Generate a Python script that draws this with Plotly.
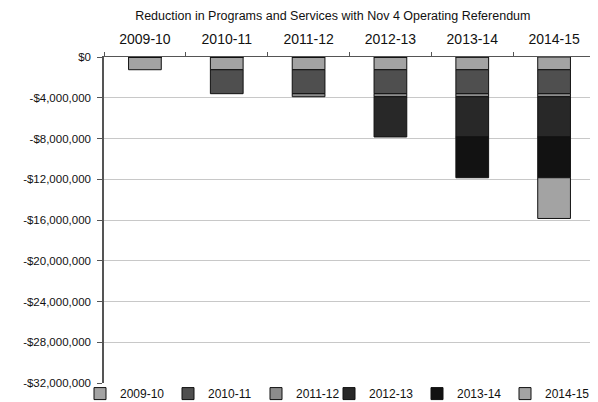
import plotly.graph_objects as go

categories = ["2009-10", "2010-11", "2011-12", "2012-13", "2013-14", "2014-15"]
series_names = ["2009-10", "2010-11", "2011-12", "2012-13", "2013-14", "2014-15"]
# reduction per year-tranche (negative dollars), stacked per fiscal year
s_2009 = [-1250000, -1250000, -1250000, -1250000, -1250000, -1250000]
s_2010 = [0, -2350000, -2350000, -2350000, -2350000, -2350000]
s_2011 = [0, 0, -300000, -300000, -300000, -300000]
s_2012 = [0, 0, 0, -3950000, -3950000, -3950000]
s_2013 = [0, 0, 0, 0, -4000000, -4000000]
s_2014 = [0, 0, 0, 0, 0, -4000000]
series_values = [s_2009, s_2010, s_2011, s_2012, s_2013, s_2014]
colors = ["#a3a3a3", "#4f4f4f", "#8c8c8c", "#282828", "#121212", "#a3a3a3"]

tick_vals = [0, -4000000, -8000000, -12000000, -16000000, -20000000, -24000000, -28000000, -32000000]
tick_text = ["$0", "-$4,000,000", "-$8,000,000", "-$12,000,000", "-$16,000,000",
             "-$20,000,000", "-$24,000,000", "-$28,000,000", "-$32,000,000"]

fig = go.Figure()
for i, (name, vals, col) in enumerate(zip(series_names, series_values, colors)):
    fig.add_trace(go.Bar(
        x=categories, y=vals, name=name, width=0.4,
        legend="legend" if i < 3 else "legend2",
        marker=dict(color=col, line=dict(color="#111111", width=1)),
    ))

legend_common = dict(orientation="h", xref="container", yref="paper",
                     xanchor="left", y=0.012, yanchor="top",
                     entrywidth=43, entrywidthmode="pixels", traceorder="normal",
                     font=dict(size=12), itemwidth=30, bgcolor="rgba(0,0,0,0)")

fig.update_layout(
    width=590, height=394,
    barmode="relative",
    paper_bgcolor="white", plot_bgcolor="white",
    font=dict(family="Liberation Sans, Arial, sans-serif", color="#111111", size=11),
    margin=dict(l=96, r=3, t=49, b=19, autoexpand=False),
    title=dict(text="Reduction in Programs and Services with Nov 4 Operating Referendum",
               x=0.466, xanchor="center", xref="paper", y=0.98, yanchor="middle",
               font=dict(size=12.5, color="#111111")),
    xaxis=dict(type="category", side="top", showline=True, linecolor="#555555", linewidth=1,
               ticks="outside", tickson="boundaries", ticklen=4, tickcolor="#555555",
               ticklabelstandoff=6,
               tickfont=dict(size=14), showgrid=False, fixedrange=True, automargin=False),
    yaxis=dict(range=[-32000000, 0], tickvals=tick_vals, ticktext=tick_text,
               showline=True, linecolor="#555555", linewidth=1.5,
               ticks="outside", ticklen=5, tickcolor="#555555", ticklabelstandoff=4,
               showgrid=True, gridcolor="#c8c8c8", gridwidth=1,
               zeroline=False, tickfont=dict(size=11.5), automargin=False),
    legend=dict(legend_common, x=72 / 590),
    legend2=dict(legend_common, x=(72 + 3 * 83) / 590),
    showlegend=True,
)
fig.add_shape(type="line", xref="paper", yref="paper", x0=1, x1=1, y0=0, y1=1,
              line=dict(color="#555555", width=1))

fig.write_html("out.html")
